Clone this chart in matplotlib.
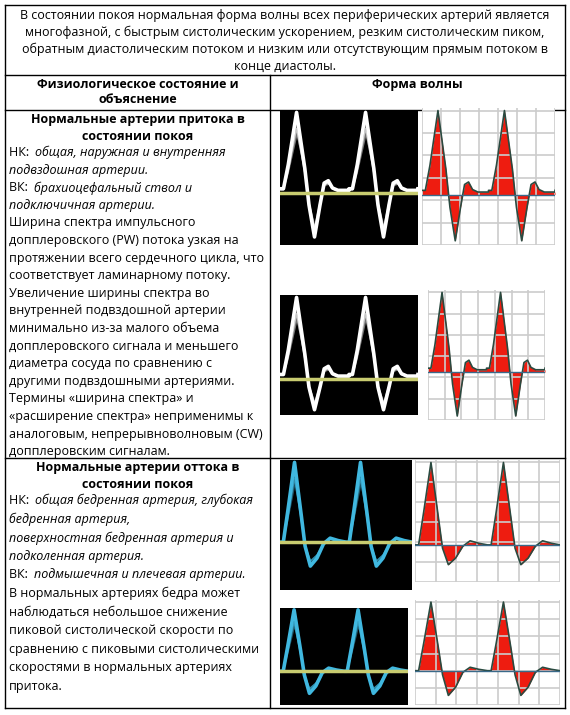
import matplotlib
matplotlib.use("Agg")
import matplotlib.pyplot as plt
import numpy as np

plt.rcParams['font.family'] = ['Open Sans', 'DejaVu Sans']

header = ("В состоянии покоя нормальная форма волны всех периферических артерий является\n"
          "многофазной, с быстрым систолическим ускорением, резким систолическим пиком,\n"
          "обратным диастолическим потоком и низким или отсутствующим прямым потоком в\n"
          "конце диастолы.")
col_heads = ["Физиологическое состояние и\nобъяснение", "Форма волны"]
row1_title = "Нормальные артерии притока в\nсостоянии покоя"
row1_lines = [
    ("НК: ", "общая, наружная и внутренняя"), ("", "подвздошная артерии."),
    ("ВК: ", "брахиоцефальный ствол и"), ("", "подключичная артерии."),
    ("Ширина спектра импульсного", ""), ("допплеровского (PW) потока узкая на", ""),
    ("протяжении всего сердечного цикла, что", ""), ("соответствует ламинарному потоку.", ""),
    ("Увеличение ширины спектра во", ""), ("внутренней подвздошной артерии", ""),
    ("минимально из-за малого объема", ""), ("допплеровского сигнала и меньшего", ""),
    ("диаметра сосуда по сравнению с", ""), ("другими подвздошными артериями.", ""),
    ("Термины «ширина спектра» и", ""), ("«расширение спектра» неприменимы к", ""),
    ("аналоговым, непрерывноволновым (CW)", ""), ("допплеровским сигналам.", ""),
]
row2_title = "Нормальные артерии оттока в\nсостоянии покоя"
row2_lines = [
    ("НК: ", "общая бедренная артерия, глубокая"), ("", "бедренная артерия,"),
    ("", "поверхностная бедренная артерия и"), ("", "подколенная артерия."),
    ("ВК: ", "подмышечная и плечевая артерии."),
    ("В нормальных артериях бедра может", ""), ("наблюдаться небольшое снижение", ""),
    ("пиковой систолической скорости по", ""), ("сравнению с пиковыми систолическими", ""),
    ("скоростями в нормальных артериях", ""), ("притока.", ""),
]

# waveform shapes (one cardiac cycle, normalised time / velocity)
in_t = [0, 0.05, 0.12, 0.24, 0.36, 0.42, 0.5, 0.58, 0.64, 0.7, 0.76, 0.84, 1.0]
in_v = [0.05, 0.05, 0.35, 1.0, 0.3, -0.15, -0.55, -0.15, 0.12, 0.15, 0.06, 0.03, 0.03]
out_t = [0, 0.05, 0.12, 0.22, 0.32, 0.38, 0.46, 0.56, 0.66, 0.76, 0.88, 1.0]
out_v = [0.0, 0.0, 0.4, 1.0, 0.35, -0.05, -0.3, -0.2, -0.02, 0.05, 0.02, 0.0]

W, H = 570, 715
fig = plt.figure(figsize=(5.7, 7.15), dpi=100)
ax = fig.add_axes([0, 0, 1, 1])
ax.set_xlim(0, W); ax.set_ylim(H, 0); ax.axis('off')

L, R, T, B, C = 5, 565, 5, 708, 270
y_h, y_c, y_r = 75, 110, 458
kw = dict(color='black', lw=1)
for y in (T, y_h, y_c, y_r, B):
    ax.plot([L, R], [y, y], **kw)
for x in (L, R):
    ax.plot([x, x], [T, B], **kw)
ax.plot([C, C], [y_h, B], **kw)

fs = 9.0
ax.text(W / 2, 9, header, ha='center', va='top', fontsize=fs, linespacing=1.35)
ax.text((L + C) / 2, 78, col_heads[0], ha='center', va='top', fontsize=fs, weight='bold', linespacing=1.2)
ax.text((C + R) / 2, 78, col_heads[1], ha='center', va='top', fontsize=fs, weight='bold')

def block(title, lines, y0, step):
    ax.text((L + C) / 2, y0, title, ha='center', va='top', fontsize=fs, weight='bold', linespacing=1.4)
    y = y0 + 33
    for a, b in lines:
        ax.text(9, y, a, ha='left', va='top', fontsize=fs)
        if b:
            x = 9
            if a == "НК: ":
                x = 9 + 26
            elif a == "ВК: ":
                x = 9 + 25
            ax.text(x, y, b, ha='left', va='top', fontsize=fs, style='italic')
        y += step

block(row1_title, row1_lines, 113, 17.6)
block(row2_title, row2_lines, 461, 18.6)

def px_axes(x0, y0, x1, y1):
    a = fig.add_axes([x0 / W, 1 - y1 / H, (x1 - x0) / W, (y1 - y0) / H])
    a.set_xticks([]); a.set_yticks([])
    for s in a.spines.values():
        s.set_visible(False)
    return a

def cycles(tt, vv, n=2.1, off=0.0):
    t = np.concatenate([np.array(tt) + k for k in range(3)]) - off
    v = np.concatenate([vv] * 3)
    m = (t >= 0) & (t <= n)
    return t[m], v[m]

def dark(box, tt, vv, col, base, neg):
    a = px_axes(*box)
    a.set_facecolor('black')
    t, v = cycles(tt, vv, 2.0, 0.0)
    v = np.where(v < 0, v * neg, v)
    a.fill_between(t, v * 0.7, v, color=col, alpha=0.45, lw=0)
    a.plot(t, v, color=col, lw=2.6)
    a.plot(t, v * 0.8, color=col, lw=1, alpha=0.6)
    a.axhline(0, color='#c8cc70', lw=2.5)
    a.set_xlim(0, 2.0); a.set_ylim(base, 1.03)

def red(box, tt, vv, base, neg):
    a = px_axes(*box)
    a.set_facecolor('white')
    for g in np.linspace(0, 2.0, 8):
        a.axvline(g, color='#cccccc', lw=1.2)
    for g in np.linspace(base, 1, 7):
        a.axhline(g, color='#cccccc', lw=1.2)
    t, v = cycles(tt, vv, 2.0, 0.0)
    v = np.where(v < 0, v * neg, v)
    a.fill_between(t, 0, v, color='#ee1c10', lw=0)
    a.plot(t, v, color='#2a4a40', lw=1.2)
    a.axhline(0, color='#3a6a8a', lw=1)
    a.set_xlim(0, 2.0); a.set_ylim(base, 1.03)

dark((280, 110, 418, 245), in_t, in_v, 'white', -0.65, 1.0)
red((422, 108, 555, 245), in_t, in_v, -0.6, 1.0)
dark((280, 295, 418, 415), in_t, in_v, 'white', -0.45, 0.7)
red((428, 290, 545, 420), in_t, in_v, -0.6, 1.0)
dark((280, 460, 412, 590), out_t, out_v, '#40b8e0', -0.6, 1.0)
red((415, 460, 560, 582), out_t, out_v, -0.45, 0.8)
dark((280, 608, 408, 705), out_t, out_v, '#40b8e0', -0.55, 1.2)
red((415, 600, 560, 705), out_t, out_v, -0.5, 1.2)

fig.savefig('out.png', dpi=100)
